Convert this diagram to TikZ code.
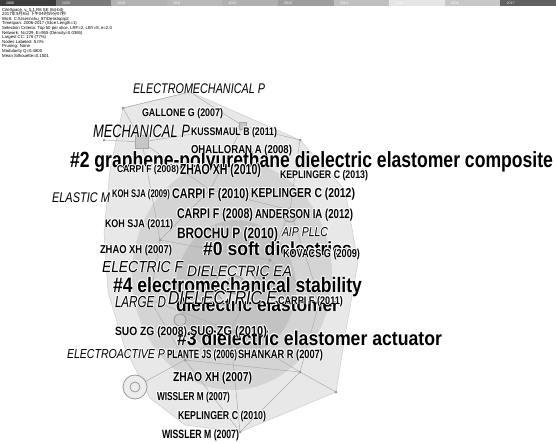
\documentclass[tikz,border=0pt]{standalone}
\usepackage{fontspec}
\setmainfont{Liberation Sans}
\newfontfamily\cjk{Noto Sans CJK SC}
\usepackage{graphicx}
\newsavebox\labbox
\newsavebox\halobox
\newcommand\hc[2]{\makebox[0pt][l]{\hspace*{#1}\raisebox{#2}[0pt][0pt]{\usebox\halobox}}}
\newcommand\putlab{\hc{-0.8pt}{0pt}\hc{0.8pt}{0pt}\hc{0pt}{0.8pt}\hc{0pt}{-0.8pt}\hc{-0.6pt}{0.6pt}\hc{0.6pt}{0.6pt}\hc{-0.6pt}{-0.6pt}\hc{0.6pt}{-0.6pt}\usebox\labbox}
\newcommand\LX[4]{\sbox\labbox{\resizebox{#1pt}{\height}{\fontsize{#2pt}{#2pt}\selectfont#4#3}}%
  \sbox\halobox{\color{white}\resizebox{#1pt}{\height}{\fontsize{#2pt}{#2pt}\selectfont#4#3}}\putlab}
\newcommand\LB[3]{\LX{#1}{#2}{#3}{\bfseries}}
\newcommand\LI[3]{\LX{#1}{#2}{#3}{\itshape}}
\definecolor{hullfill}{gray}{0.91}
\definecolor{blobfill}{gray}{0.83}
\definecolor{corefill}{gray}{0.76}
\definecolor{edgecol}{gray}{0.68}
\definecolor{nodecol}{gray}{0.60}
\tikzset{
  lab/.style={anchor=base west, inner sep=0pt, outer sep=0pt},
  info/.style={anchor=base west, inner sep=0pt, font=\fontsize{4.3pt}{4.3pt}\selectfont},
  yearlab/.style={anchor=base west, inner sep=0pt, font=\fontsize{3.6pt}{3.6pt}\selectfont},
  edge/.style={draw=edgecol, line width=0.5pt},
  dot/.style={circle, fill=nodecol, inner sep=0pt, minimum size=3pt},
  ring/.style={circle, draw=nodecol, line width=0.8pt, inner sep=0pt},
  sq/.style={rectangle, draw=gray!70, fill=gray!45, inner sep=0pt}
}
\begin{document}
\begin{tikzpicture}[x=1pt,y=-1pt]
\useasboundingbox (0,0) rectangle (556,442);
\fill[white] (0,0) rectangle (556,442);
% time bar
\foreach \i/\c/\yr/\tc in {0/0.24/2006/white,1/0.48/2009/gray!20,2/0.70/2010/white,3/0.72/2011/white,4/0.69/2012/white,5/0.62/2013/white,6/0.75/2014/white,7/0.90/2015/white,8/0.78/2016/white,9/0.38/2017/gray!20}{
  \definecolor{barc}{gray}{\c}
  \fill[barc] ({\i*55.6},0) rectangle ({(\i+1)*55.6},6);
  \node[yearlab, text=\tc] (y\i) at ({\i*55.6+6},4.8) {\yr};
}
% info text
\node[info] (i1) at (2,11) {CiteSpace, v. 5.1.R6 SE (64-bit)};
\node[info] (i2) at (2,15.6) {\cjk 2017年9月8日 下午04时59分07秒};
\node[info] (i3) at (2,20.2) {WoS: C:\textbackslash Users\textbackslash shu\_87\textbackslash Desktop\textbackslash p2};
\node[info] (i4) at (2,24.8) {Timespan: 2006-2017 (Slice Length=1)};
\node[info] (i5) at (2,29.4) {Selection Criteria: Top 50 per slice, LRF=2, LBY=8, e=2.0};
\node[info] (i6) at (2,34.0) {Network: N=229, E=955 (Density=0.0365)};
\node[info] (i7) at (2,38.6) {Largest CC: 176 (77\%)};
\node[info] (i8) at (2,43.2) {Nodes Labeled: 5.0\%};
\node[info] (i9) at (2,47.8) {Pruning: None};
\node[info] (i10) at (2,52.4) {Modularity Q=0.4800};
\node[info] (i11) at (2,57.0) {Mean Silhouette=0.1501};
% background network
\filldraw[fill=hullfill, draw=gray!40, line width=0.5pt]
  (123,108) -- (190,92) -- (300,140) -- (345,190) -- (358,262) -- (346,330) -- (336,392)
  -- (240,432) -- (185,425) -- (150,398) -- (125,348) -- (108,292) -- (104,232) -- (110,170) -- cycle;
\fill[blobfill] (232,275) ellipse (100 and 115);
\fill[corefill] (236,288) ellipse (60 and 68);
\coordinate (p1) at (123,108); \coordinate (p2) at (190,92); \coordinate (p3) at (104,140);
\coordinate (p4) at (142,142); \coordinate (p5) at (243,126); \coordinate (p6) at (300,140);
\coordinate (p7) at (135,387); \coordinate (p8) at (185,360); \coordinate (p9) at (240,432);
\coordinate (p10) at (336,392); \coordinate (p11) at (300,372); \coordinate (p12) at (160,240);
\coordinate (p13) at (290,210); \coordinate (p14) at (230,330); \coordinate (p15) at (150,300);
\coordinate (p16) at (320,300); \coordinate (p17) at (210,190); \coordinate (p18) at (270,260);
\draw[edge] (p1) -- (p4) -- (p5) -- (p2) -- (p1);
\draw[edge] (p3) -- (p4) -- (p17) -- (p5) -- (p6) -- (p13);
\draw[edge] (p4) -- (p12) -- (p17) -- (p13) -- (p18) -- (p12);
\draw[edge] (p12) -- (p15) -- (p14) -- (p18) -- (p16) -- (p13);
\draw[edge] (p15) -- (p8) -- (p14) -- (p11) -- (p16);
\draw[edge] (p7) -- (p8) -- (p9) -- (p11) -- (p10);
\draw[edge] (p8) -- (p11); \draw[edge] (p9) -- (p14);
\foreach \p in {p1,p2,p3,p6,p8,p9,p10,p11,p12,p13,p14,p15,p16,p17,p18}{\node[dot] at (\p) {};}
\node[ring, minimum size=24pt, fill=gray!15] (r1) at (p7) {};
\node[ring, minimum size=10pt] (r2) at (p7) {};
\node[sq, minimum size=13pt] (s1) at (p4) {};
\node[sq, minimum size=7pt] (s2) at (p5) {};
\node[ring, minimum size=40pt, fill=gray!30] (r3) at (236,285) {};
\node[ring, minimum size=18pt, fill=gray!45] (r4) at (236,285) {};
\node[ring, minimum size=14pt, fill=gray!40] (r5) at (290,215) {};
\node[ring, minimum size=12pt, fill=gray!40] (r6) at (180,320) {};
% cluster labels
\node[lab] (c3) at (177,345) {\LB{265}{20}{\#3 dielectric elastomer actuator}};
\node[lab] (c1) at (176,311) {\LB{163}{19}{dielectric elastomer}};
\node[lab] (c4) at (113,292) {\LB{249}{21}{\#4 electromechanical stability}};
\node[lab] (c0) at (203,255) {\LB{149}{19}{\#0 soft dielectrics}};
\node[lab] (c2) at (70,167) {\LB{483}{22}{\#2 graphene-polyurethane dielectric elastomer composite}};
% keyword labels
\node[lab] (k1) at (133,93) {\LI{132}{14}{ELECTROMECHANICAL P}};
\node[lab] (k2) at (93,137) {\LI{97}{18}{MECHANICAL P}};
\node[lab] (k3) at (52,202) {\LI{58}{14}{ELASTIC M}};
\node[lab] (k4) at (282,236) {\LI{46}{13}{AIP PLLC}};
\node[lab] (k5) at (102,272) {\LI{81}{16}{ELECTRIC F}};
\node[lab] (k6) at (187,276) {\LI{105}{15}{DIELECTRIC EA}};
\node[lab] (k7) at (115,307) {\LI{51}{16}{LARGE D}};
\node[lab] (k8) at (168,304) {\LI{109}{19}{DIELECTRIC E}};
\node[lab] (k9) at (67,358) {\LI{98}{13}{ELECTROACTIVE P}};
% author labels
\node[lab] (a1) at (142,116) {\LB{81}{11}{GALLONE G (2007)}};
\node[lab] (a2) at (191,135) {\LB{86}{11}{KUSSMAUL B (2011)}};
\node[lab] (a3) at (191,153) {\LB{101}{11.5}{OHALLORAN A (2008)}};
\node[lab] (a4) at (117,172) {\LB{62}{10}{CARPI F (2008)}};
\node[lab] (a5) at (180,174) {\LB{81}{14.5}{ZHAO XH (2010)}};
\node[lab] (a6) at (280,178) {\LB{88}{11}{KEPLINGER C (2013)}};
\node[lab] (a7) at (112,197) {\LB{58}{11}{KOH SJA (2009)}};
\node[lab] (a8) at (172,198) {\LB{77}{14}{CARPI F (2010)}};
\node[lab] (a9) at (251,197) {\LB{104}{13}{KEPLINGER C (2012)}};
\node[lab] (a10) at (177,218) {\LB{76}{14}{CARPI F (2008)}};
\node[lab] (a11) at (255,218) {\LB{98}{13}{ANDERSON IA (2012)}};
\node[lab] (a12) at (105,227) {\LB{68}{11}{KOH SJA (2011)}};
\node[lab] (a13) at (177,238) {\LB{101}{15}{BROCHU P (2010)}};
\node[lab] (a14) at (100,253) {\LB{72}{11.5}{ZHAO XH (2007)}};
\node[lab] (a15) at (283,257) {\LB{77}{11.5}{KOVACS G (2009)}};
\node[lab] (a16) at (278,304) {\LB{65}{11}{CARPI F (2011)}};
\node[lab] (a17) at (115,335) {\LB{72}{12}{SUO ZG (2008)}};
\node[lab] (a18) at (190,335) {\LB{77}{13}{SUO ZG (2010)}};
\node[lab] (a19) at (167,358) {\LB{70}{12}{PLANTE JS (2006)}};
\node[lab] (a20) at (238,358) {\LB{85}{12}{SHANKAR R (2007)}};
\node[lab] (a21) at (173,381) {\LB{79}{13}{ZHAO XH (2007)}};
\node[lab] (a22) at (157,400) {\LB{73}{11.5}{WISSLER M (2007)}};
\node[lab] (a23) at (178,419) {\LB{88}{11.5}{KEPLINGER C (2010)}};
\node[lab] (a24) at (162,438) {\LB{77}{12}{WISSLER M (2007)}};
\end{tikzpicture}
\end{document}
